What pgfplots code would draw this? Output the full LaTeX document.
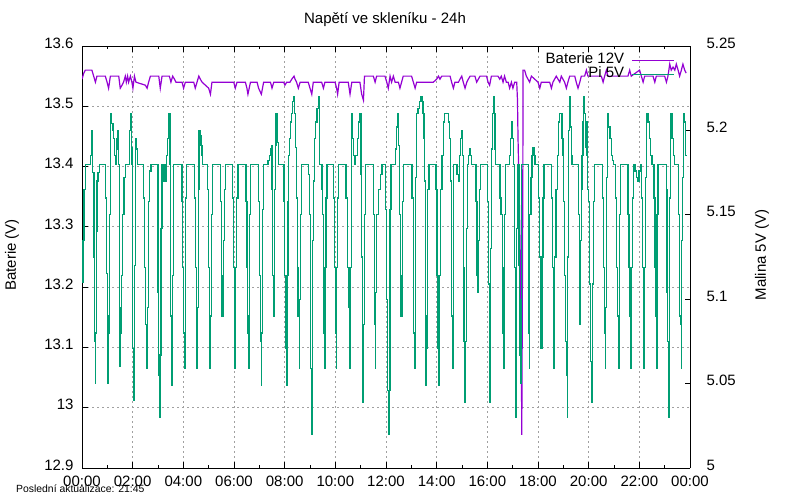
\documentclass[border=0pt]{standalone}
\usepackage{fontspec}
\setmainfont{Liberation Sans}
\usepackage{pgfplots}
\pgfplotsset{compat=1.18}
\definecolor{batPurple}{HTML}{9400D3}
\definecolor{piGreen}{HTML}{009E73}
\definecolor{gridGray}{HTML}{A0A0A0}
\newcommand{\fs}{\fontsize{15}{18}\selectfont}
\begin{document}
\begin{tikzpicture}
\path[use as bounding box] (-82pt,-32pt) rectangle (718pt,468pt);
\begin{axis}[
  scale only axis, width=608pt, height=422pt,
  xmin=0, xmax=24, ymin=12.9, ymax=13.6,
  axis y line*=left,
  xtick={0,2,...,24},
  xticklabels={00:00,02:00,04:00,06:00,08:00,10:00,12:00,14:00,16:00,18:00,20:00,22:00,00:00},
  minor x tick num=1,
  ytick={12.9,13.0,13.1,13.2,13.3,13.4,13.5,13.6},
  yticklabels={12.9,13,13.1,13.2,13.3,13.4,13.5,13.6},
  xtick pos=both,
  tick align=inside,
  major tick length=5.5pt, minor tick length=2.75pt,
  tick style={black, line width=0.8pt},
  axis line style={black, line width=0.9pt},
  grid=major,
  major grid style={gridGray, line width=0.8pt, dash pattern=on 2pt off 3pt},
  tick label style={font=\fs},
  /pgf/number format/assume math mode=true,
  yticklabel style={xshift=-5pt, yshift=3pt},
  xticklabel style={yshift=-4pt},
  legend style={draw=none, fill=none, at={(axis description cs:0.9803,0.9905)}, anchor=north east,
    font=\fs, nodes={inner sep=0.5pt, text height=10.5pt, text depth=2.5pt}, row sep=0pt,
    /tikz/every odd column/.append style={column sep=7pt}},
  legend plot pos=right,
  legend cell align=right,
  legend image code/.code={\draw[#1] (0pt,-1.5pt) -- (42pt,-1.5pt);},
]
\addplot[batPurple, line width=1.2pt, forget plot] coordinates {
(0.00,13.545)(0.07,13.555)(0.13,13.56)(0.39,13.56)(0.46,13.55)(0.53,13.54)(0.59,13.55)(0.92,13.55)
(0.99,13.54)(1.05,13.53)(1.12,13.55)(1.45,13.55)(1.51,13.53)(1.58,13.535)(1.64,13.54)(1.71,13.55)
(1.75,13.54)(1.80,13.55)(1.84,13.54)(1.91,13.55)(1.97,13.54)(2.01,13.53)(2.07,13.55)(2.13,13.54)
(2.50,13.535)(2.57,13.53)(2.63,13.54)(2.70,13.55)(3.03,13.55)(3.09,13.53)(3.16,13.55)(3.45,13.55)
(3.51,13.54)(3.58,13.55)(3.65,13.545)(3.71,13.54)(3.95,13.54)(4.01,13.53)(4.08,13.54)(4.41,13.54)
(4.47,13.53)(4.61,13.55)(4.67,13.545)(4.74,13.54)(5.00,13.53)(5.07,13.52)(5.13,13.54)(5.99,13.54)
(6.05,13.53)(6.12,13.54)(6.45,13.54)(6.51,13.53)(6.55,13.52)(6.65,13.54)(6.91,13.54)(6.97,13.53)
(7.08,13.52)(7.17,13.54)(7.44,13.54)(7.50,13.53)(7.57,13.54)(7.96,13.54)(8.01,13.535)(8.08,13.54)
(8.21,13.54)(8.28,13.545)(8.37,13.55)(8.41,13.545)(8.47,13.54)(8.54,13.53)(8.61,13.54)(8.93,13.54)
(9.00,13.53)(9.07,13.52)(9.13,13.54)(9.46,13.54)(9.53,13.53)(9.59,13.54)(9.99,13.54)(10.05,13.53)
(10.09,13.52)(10.15,13.54)(10.51,13.54)(10.58,13.52)(10.65,13.54)(10.97,13.54)(11.04,13.52)(11.11,13.51)
(11.15,13.55)(11.50,13.55)(11.57,13.54)(11.63,13.55)(11.96,13.55)(12.03,13.54)(12.09,13.53)(12.16,13.55)
(12.22,13.54)(12.29,13.55)(12.36,13.54)(12.49,13.54)(12.55,13.53)(12.68,13.55)(13.01,13.55)(13.08,13.54)
(13.15,13.53)(13.21,13.54)(13.87,13.54)(14.00,13.545)(14.07,13.55)(14.13,13.545)(14.20,13.55)(14.53,13.55)
(14.59,13.54)(14.66,13.53)(14.72,13.54)(14.86,13.54)(14.92,13.545)(14.99,13.55)(15.05,13.54)(15.12,13.53)
(15.19,13.54)(15.25,13.545)(15.32,13.55)(15.51,13.55)(15.58,13.54)(15.71,13.55)(15.97,13.55)(16.03,13.54)
(16.09,13.535)(16.16,13.55)(16.42,13.55)(16.49,13.545)(16.55,13.55)(16.62,13.54)(16.68,13.55)(16.75,13.54)
(16.82,13.54)(16.88,13.53)(16.95,13.54)(17.01,13.53)(17.08,13.54)(17.16,13.54)(17.19,13.51)(17.21,13.45)
(17.26,13.35)(17.30,13.25)(17.34,13.10)(17.36,12.955)(17.40,13.36)(17.41,13.56)(17.47,13.56)(17.54,13.55)
(17.67,13.54)(17.74,13.55)(17.87,13.545)(18.00,13.54)(18.07,13.53)(18.13,13.54)(18.46,13.54)(18.53,13.53)
(18.59,13.54)(18.72,13.55)(18.86,13.54)(18.92,13.55)(19.05,13.54)(19.12,13.53)(19.18,13.54)(19.25,13.55)
(19.45,13.55)(19.51,13.54)(19.58,13.53)(19.65,13.54)(19.71,13.55)(19.84,13.55)(19.91,13.56)(19.97,13.55)
(20.50,13.55)(20.57,13.54)(20.63,13.55)(20.70,13.56)(20.76,13.55)(21.55,13.55)(21.62,13.56)(21.68,13.55)
(22.01,13.56)(22.08,13.55)(22.15,13.54)(22.21,13.55)(22.54,13.55)(22.61,13.54)(22.67,13.55)(23.00,13.55)
(23.07,13.54)(23.13,13.55)(23.20,13.57)(23.26,13.56)(23.33,13.565)(23.40,13.56)(23.46,13.57)(23.53,13.56)
(23.59,13.55)(23.66,13.56)(23.72,13.57)(23.79,13.56)(23.85,13.555)
};
\addlegendimage{draw=batPurple, line width=1.2pt}
\addlegendentry{Baterie 12V}
\addlegendimage{draw=piGreen, line width=1.2pt}
\addlegendentry{Pi 5V}
\end{axis}
\begin{axis}[
  scale only axis, width=608pt, height=422pt,
  xmin=0, xmax=24, ymin=5, ymax=5.25,
  axis y line*=right, axis x line=none,
  ytick={5,5.05,5.1,5.15,5.2,5.25},
  yticklabels={5,5.05,5.1,5.15,5.2,5.25},
  tick align=inside,
  major tick length=5.5pt,
  tick style={black, line width=0.8pt},
  axis line style={black, line width=0.9pt},
  tick label style={font=\fs},
  /pgf/number format/assume math mode=true,
  yticklabel style={xshift=13pt, yshift=3pt},
]
\addplot[piGreen, line width=1.2pt, const plot] coordinates {
(0.00,5.110)(0.04,5.135)(0.08,5.165)(0.13,5.180)(0.33,5.185)(0.36,5.195)(0.39,5.200)(0.43,5.175)
(0.47,5.125)(0.50,5.075)(0.53,5.050)(0.54,5.080)(0.57,5.140)(0.59,5.170)(0.63,5.175)(0.68,5.180)
(0.92,5.160)(0.96,5.115)(1.00,5.090)(1.03,5.050)(1.05,5.080)(1.08,5.150)(1.11,5.210)(1.16,5.207)
(1.18,5.204)(1.22,5.200)(1.25,5.195)(1.29,5.185)(1.32,5.180)(1.36,5.189)(1.38,5.195)(1.41,5.200)
(1.45,5.180)(1.47,5.095)(1.50,5.060)(1.53,5.080)(1.57,5.114)(1.61,5.150)(1.66,5.172)(1.71,5.180)
(1.88,5.200)(1.91,5.210)(1.95,5.190)(1.97,5.180)(2.00,5.071)(2.03,5.040)(2.05,5.067)(2.08,5.120)
(2.11,5.195)(2.15,5.189)(2.18,5.180)(2.43,5.160)(2.47,5.119)(2.50,5.085)(2.54,5.059)(2.57,5.095)
(2.61,5.158)(2.65,5.165)(2.68,5.176)(2.72,5.180)(3.00,5.104)(3.03,5.055)(3.05,5.030)(3.08,5.067)
(3.12,5.142)(3.16,5.180)(3.20,5.174)(3.22,5.170)(3.26,5.180)(3.29,5.170)(3.33,5.185)(3.36,5.195)
(3.40,5.205)(3.43,5.210)(3.47,5.180)(3.50,5.090)(3.53,5.049)(3.55,5.090)(3.58,5.114)(3.61,5.180)
(3.95,5.158)(3.97,5.119)(4.00,5.080)(4.04,5.059)(4.07,5.100)(4.09,5.160)(4.13,5.180)(4.45,5.160)
(4.49,5.119)(4.51,5.080)(4.54,5.059)(4.57,5.095)(4.59,5.165)(4.62,5.200)(4.66,5.197)(4.70,5.191)
(4.74,5.185)(4.76,5.180)(4.96,5.165)(5.00,5.119)(5.03,5.080)(5.05,5.059)(5.08,5.090)(5.11,5.150)
(5.14,5.180)(5.46,5.158)(5.50,5.114)(5.53,5.090)(5.57,5.104)(5.59,5.135)(5.63,5.165)(5.66,5.180)
(5.95,5.160)(5.99,5.119)(6.01,5.080)(6.04,5.059)(6.07,5.119)(6.11,5.160)(6.16,5.180)(6.47,5.158)
(6.51,5.119)(6.54,5.080)(6.57,5.059)(6.59,5.090)(6.62,5.150)(6.66,5.180)(6.97,5.158)(7.01,5.114)
(7.04,5.075)(7.07,5.049)(7.09,5.080)(7.12,5.153)(7.16,5.180)(7.34,5.182)(7.40,5.185)(7.43,5.189)
(7.47,5.191)(7.50,5.165)(7.53,5.114)(7.55,5.090)(7.58,5.114)(7.61,5.165)(7.63,5.191)(7.66,5.210)
(7.70,5.202)(7.72,5.193)(7.76,5.180)(7.97,5.158)(8.00,5.114)(8.03,5.071)(8.06,5.049)(8.09,5.114)
(8.13,5.158)(8.15,5.185)(8.19,5.195)(8.23,5.205)(8.28,5.210)(8.32,5.217)(8.36,5.220)(8.40,5.210)
(8.43,5.190)(8.46,5.160)(8.50,5.119)(8.53,5.090)(8.57,5.059)(8.59,5.100)(8.62,5.150)(8.65,5.180)
(8.94,5.174)(8.98,5.150)(9.01,5.100)(9.03,5.059)(9.06,5.020)(9.09,5.046)(9.11,5.135)(9.15,5.170)
(9.19,5.195)(9.23,5.205)(9.28,5.213)(9.32,5.220)(9.36,5.210)(9.39,5.180)(9.47,5.165)(9.50,5.150)
(9.52,5.119)(9.55,5.080)(9.57,5.059)(9.60,5.119)(9.63,5.160)(9.67,5.180)(9.93,5.160)(9.97,5.119)
(10.00,5.080)(10.04,5.059)(10.06,5.119)(10.10,5.160)(10.14,5.180)(10.42,5.160)(10.48,5.119)(10.54,5.095)
(10.57,5.059)(10.60,5.119)(10.63,5.172)(10.65,5.210)(10.69,5.195)(10.73,5.185)(10.77,5.180)(10.81,5.185)
(10.86,5.195)(10.92,5.205)(10.97,5.210)(11.01,5.174)(11.04,5.125)(11.06,5.075)(11.09,5.039)(11.11,5.085)
(11.14,5.150)(11.18,5.180)(11.50,5.150)(11.54,5.085)(11.57,5.059)(11.60,5.104)(11.64,5.150)(11.71,5.165)
(11.77,5.174)(11.84,5.180)(11.97,5.153)(12.01,5.100)(12.05,5.046)(12.09,5.020)(12.12,5.046)(12.16,5.153)
(12.20,5.180)(12.39,5.189)(12.43,5.202)(12.46,5.210)(12.50,5.191)(12.54,5.150)(12.57,5.114)(12.59,5.090)
(12.63,5.114)(12.66,5.158)(12.70,5.180)(13.03,5.160)(13.07,5.119)(13.09,5.080)(13.12,5.059)(13.16,5.172)
(13.20,5.210)(13.26,5.213)(13.32,5.217)(13.37,5.220)(13.42,5.217)(13.46,5.210)(13.50,5.195)(13.53,5.170)
(13.55,5.090)(13.58,5.049)(13.61,5.071)(13.65,5.165)(13.70,5.180)(13.97,5.165)(14.01,5.114)(14.05,5.071)
(14.09,5.049)(14.12,5.114)(14.16,5.165)(14.21,5.185)(14.26,5.205)(14.30,5.210)(14.41,5.210)(14.46,5.205)
(14.50,5.195)(14.54,5.170)(14.57,5.125)(14.59,5.090)(14.62,5.059)(14.65,5.150)(14.68,5.180)(14.80,5.174)
(14.86,5.170)(14.89,5.185)(14.93,5.195)(14.99,5.200)(15.03,5.185)(15.05,5.119)(15.08,5.075)(15.11,5.039)
(15.15,5.075)(15.17,5.142)(15.21,5.180)(15.25,5.185)(15.29,5.189)(15.33,5.185)(15.37,5.180)(15.55,5.158)
(15.59,5.114)(15.62,5.104)(15.65,5.135)(15.69,5.165)(15.72,5.180)(16.01,5.158)(16.04,5.109)(16.07,5.063)
(16.09,5.039)(16.12,5.130)(16.16,5.189)(16.20,5.210)(16.24,5.220)(16.28,5.210)(16.30,5.189)(16.33,5.180)
(16.50,5.160)(16.54,5.150)(16.59,5.119)(16.62,5.080)(16.64,5.059)(16.67,5.150)(16.71,5.180)(16.89,5.185)
(16.93,5.195)(16.97,5.205)(17.00,5.195)(17.04,5.180)(17.08,5.119)(17.10,5.063)(17.13,5.030)(17.16,5.142)
(17.20,5.180)(17.25,5.120)(17.28,5.067)(17.30,5.050)(17.33,5.100)(17.36,5.180)(17.61,5.142)(17.63,5.080)
(17.66,5.059)(17.68,5.150)(17.72,5.172)(17.76,5.185)(17.80,5.190)(17.84,5.185)(17.88,5.180)(18.03,5.160)
(18.07,5.125)(18.09,5.090)(18.12,5.071)(18.16,5.125)(18.20,5.160)(18.24,5.180)(18.53,5.160)(18.57,5.119)
(18.61,5.080)(18.63,5.059)(18.66,5.125)(18.71,5.165)(18.76,5.185)(18.82,5.205)(18.86,5.210)(18.91,5.210)
(18.95,5.195)(18.99,5.185)(19.01,5.158)(19.04,5.114)(19.08,5.075)(19.12,5.055)(19.15,5.030)(19.17,5.125)
(19.21,5.200)(19.24,5.220)(19.28,5.202)(19.32,5.185)(19.34,5.180)(19.59,5.150)(19.63,5.090)(19.66,5.085)
(19.69,5.135)(19.71,5.165)(19.74,5.185)(19.78,5.205)(19.80,5.220)(19.83,5.210)(19.86,5.190)(19.90,5.185)
(19.93,5.205)(19.96,5.165)(19.99,5.158)(20.02,5.109)(20.07,5.063)(20.11,5.039)(20.14,5.109)(20.18,5.158)
(20.24,5.180)(20.55,5.160)(20.59,5.119)(20.63,5.080)(20.66,5.059)(20.68,5.095)(20.71,5.172)(20.75,5.210)
(20.79,5.202)(20.84,5.195)(20.90,5.185)(20.95,5.182)(20.99,5.180)(21.05,5.160)(21.11,5.119)(21.15,5.090)
(21.17,5.059)(21.20,5.090)(21.22,5.150)(21.26,5.180)(21.55,5.150)(21.59,5.119)(21.63,5.090)(21.66,5.059)
(21.69,5.119)(21.72,5.160)(21.78,5.180)(21.83,5.176)(21.88,5.172)(21.93,5.170)(21.99,5.176)(22.04,5.180)
(22.07,5.160)(22.11,5.119)(22.15,5.080)(22.17,5.059)(22.20,5.119)(22.24,5.172)(22.29,5.210)(22.34,5.205)
(22.40,5.195)(22.45,5.185)(22.50,5.180)(22.58,5.160)(22.62,5.119)(22.65,5.090)(22.67,5.059)(22.70,5.150)
(22.74,5.180)(23.07,5.165)(23.09,5.104)(23.12,5.075)(23.15,5.055)(23.17,5.030)(23.20,5.160)(23.24,5.210)
(23.29,5.195)(23.34,5.185)(23.40,5.180)(23.55,5.150)(23.59,5.090)(23.62,5.085)(23.65,5.059)(23.67,5.135)
(23.71,5.172)(23.75,5.210)(23.79,5.205)(23.83,5.185)(23.85,5.185)
};
\end{axis}
\node[font=\fs] at (303pt,448pt) {Napětí ve skleníku - 24h};
\node[font=\fs, rotate=90] at (-70pt,213pt) {Baterie (V)};
\node[font=\fs, rotate=90] at (680pt,213pt) {Malina 5V (V)};
\node[font=\fontsize{10.4}{12}\selectfont, anchor=west, inner sep=0pt] at (-66pt,-21pt) {Poslední aktualizace: 21:45};
\end{tikzpicture}
\end{document}
